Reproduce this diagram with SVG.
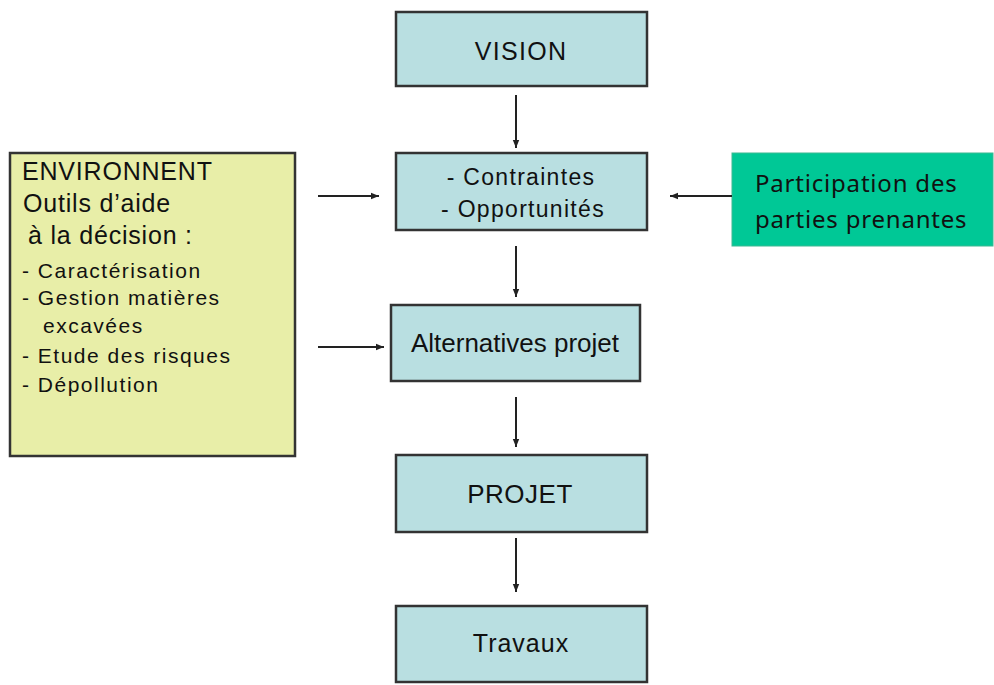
<svg xmlns="http://www.w3.org/2000/svg" width="994" height="685" viewBox="0 0 994 685">
<style>
.box{fill:#b9dfe1;stroke:#333;stroke-width:2.5}
.t{font-family:"Liberation Sans",Arial,sans-serif;fill:#111;text-anchor:middle}
.l{font-family:"Liberation Sans",Arial,sans-serif;fill:#111}
.c{stroke:#222;stroke-width:2;fill:none;marker-end:url(#ah)}
</style>
<defs>
<marker id="ah" viewBox="0 0 10 10" refX="10" refY="5" markerWidth="4" markerHeight="4" orient="auto" markerUnits="strokeWidth">
<path d="M0,1 L10,5 L0,9 z" fill="#222"/>
</marker>
</defs>
<rect width="994" height="685" fill="#fff"/>
<g id="vision"><rect class="box" x="396" y="12" width="251" height="74"/><text class="t" x="521" y="60" font-size="25" letter-spacing="1.3">VISION</text></g>
<g id="contraintes"><rect class="box" x="396" y="153" width="251" height="77"/><text class="t" x="521" y="185" font-size="23" letter-spacing="1.3">- Contraintes</text><text class="t" x="523" y="217" font-size="23" letter-spacing="1.3">- Opportunités</text></g>
<g id="alternatives"><rect class="box" x="391" y="305" width="249" height="76"/><text class="t" x="515" y="352" font-size="26">Alternatives projet</text></g>
<g id="projet"><rect class="box" x="396" y="455" width="251" height="77"/><text class="t" x="520" y="503" font-size="26" letter-spacing="0.5">PROJET</text></g>
<g id="travaux"><rect class="box" x="396" y="606" width="251" height="76"/><text class="t" x="521" y="652" font-size="25" letter-spacing="1">Travaux</text></g>
<g id="environnement"><rect x="10" y="153" width="285" height="303" fill="#e8eea8" stroke="#333" stroke-width="2.5"/>
<text class="l" font-size="25" letter-spacing="0.8"><tspan x="22" y="180">ENVIRONNENT</tspan><tspan x="23" y="212">Outils d’aide</tspan><tspan x="28" y="244">à la décision :</tspan></text>
<text class="l" font-size="21" letter-spacing="1.5"><tspan x="22" y="278">- Caractérisation</tspan><tspan x="22" y="305">- Gestion matières</tspan><tspan x="43" y="333">excavées</tspan><tspan x="22" y="363">- Etude des risques</tspan><tspan x="22" y="392">- Dépollution</tspan></text></g>
<g id="participation"><rect x="732" y="153" width="261" height="93" fill="#00c896" stroke="#3cb992" stroke-width="1"/>
<text font-family="'Noto Sans','Open Sans',sans-serif" font-size="24" letter-spacing="0.8" fill="#111"><tspan x="755" y="192">Participation des</tspan><tspan x="755" y="228">parties prenantes</tspan></text></g>
<g id="connectors">
<line class="c" x1="516" y1="95" x2="516" y2="148"/>
<line class="c" x1="516" y1="246" x2="516" y2="297"/>
<line class="c" x1="516" y1="397" x2="516" y2="447"/>
<line class="c" x1="516" y1="538" x2="516" y2="592"/>
<line class="c" x1="318" y1="196" x2="379" y2="196"/>
<line class="c" x1="318" y1="347" x2="384" y2="347"/>
<line class="c" x1="732" y1="196" x2="670" y2="196"/>
</g>
</svg>
